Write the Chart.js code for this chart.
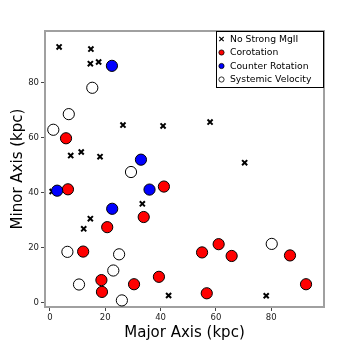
<!DOCTYPE html>
<html><head><meta charset="utf-8">
<script src="https://cdn.jsdelivr.net/npm/chart.js@4"></script>
<style>html,body{margin:0;padding:0;background:#fff}#wrap{width:360px;height:348px;position:relative}</style>
</head><body><div id="wrap"><canvas id="c" width="360" height="348"></canvas></div>
<script>
const seriesNames = ["No Strong MgII", "Corotation", "Counter Rotation", "Systemic Velocity"];
const noStrongX = [3.3, 14.8, 14.6, 17.6, 26.4, 40.9, 57.9, 70.4, 78.2, 7.5, 11.3, 18.1, 0.8, 14.6, 12.2, 33.4, 42.9];
const noStrongY = [93.1, 92.3, 87.0, 87.6, 64.6, 64.3, 65.7, 50.9, 2.4, 53.5, 54.8, 53.1, 40.4, 30.5, 26.8, 35.9, 2.5];
const coroX = [5.8, 6.5, 20.7, 12.0, 18.6, 18.8, 30.4, 41.2, 33.9, 39.4, 55.0, 61.0, 56.7, 65.7, 86.8, 92.6];
const coroY = [59.8, 41.2, 27.4, 18.5, 8.1, 3.8, 6.6, 42.2, 31.1, 9.3, 18.2, 21.2, 3.3, 16.9, 17.1, 6.6];
const counterX = [22.4, 2.6, 22.5, 32.9, 36.0];
const counterY = [86.2, 40.7, 34.1, 52.0, 41.1];
const systemicX = [15.3, 6.8, 1.2, 29.3, 6.3, 25.0, 22.9, 10.5, 26.0, 80.2];
const systemicY = [78.2, 68.6, 62.9, 47.5, 18.4, 17.5, 11.6, 6.5, 0.7, 21.3];
const tickValues = [0, 20, 40, 60, 80];
const xTitle = "Major Axis (kpc)";
const yTitle = "Minor Axis (kpc)";

const pts = (xs, ys) => xs.map((x, i) => ({x: x, y: ys[i]}));
const FONT = "'DejaVu Sans', sans-serif";

const boxPlugin = {
  id: 'boxPlugin',
  afterDatasetsDraw(chart) {
    const ctx = chart.ctx, a = chart.chartArea;
    ctx.save();
    ctx.strokeStyle = '#a0a0a0';
    ctx.lineWidth = 2;
    ctx.beginPath();
    ctx.moveTo(a.left, a.top); ctx.lineTo(a.right, a.top); ctx.lineTo(a.right, a.bottom);
    ctx.stroke();
    // legend
    const w = 108, h = 57;
    const lx = a.right - w, ly = a.top;
    ctx.fillStyle = '#fff';
    ctx.fillRect(lx, ly, w, h);
    ctx.strokeStyle = '#000';
    ctx.lineWidth = 1;
    ctx.strokeRect(lx + 0.5, ly + 0.5, w - 1, h - 1);
    ctx.font = "9.25px " + FONT;
    ctx.textBaseline = 'middle';
    ctx.textAlign = 'left';
    const rows = [8, 21.5, 35, 48.5];
    chart.data.datasets.forEach((ds, i) => {
      const mx = lx + 5.5, my = ly + rows[i];
      ctx.lineWidth = 1;
      ctx.strokeStyle = '#000';
      if (ds.pointStyle === 'crossRot') {
        ctx.lineWidth = 1.2;
        ctx.beginPath();
        ctx.moveTo(mx - 2.2, my - 2.2); ctx.lineTo(mx + 2.2, my + 2.2);
        ctx.moveTo(mx - 2.2, my + 2.2); ctx.lineTo(mx + 2.2, my - 2.2);
        ctx.stroke();
      } else {
        ctx.beginPath();
        ctx.arc(mx, my, 2.6, 0, Math.PI * 2);
        ctx.fillStyle = ds.backgroundColor;
        ctx.fill();
        ctx.lineWidth = 0.8;
        ctx.stroke();
      }
      ctx.fillStyle = '#000';
      ctx.fillText(ds.label, lx + 14, my + 0.5);
    });
    ctx.restore();
  }
};

new Chart(document.getElementById('c'), {
  type: 'scatter',
  data: {
    datasets: [
      {label: seriesNames[0], data: pts(noStrongX, noStrongY), pointStyle: 'crossRot', pointRadius: 3.6, borderColor: '#000', backgroundColor: '#000', borderWidth: 2, order: 4},
      {label: seriesNames[1], data: pts(coroX, coroY), pointStyle: 'circle', pointRadius: 5.6, borderColor: '#000', backgroundColor: '#ff0000', borderWidth: 1, order: 3},
      {label: seriesNames[2], data: pts(counterX, counterY), pointStyle: 'circle', pointRadius: 5.6, borderColor: '#000', backgroundColor: '#0000ff', borderWidth: 1, order: 2},
      {label: seriesNames[3], data: pts(systemicX, systemicY), pointStyle: 'circle', pointRadius: 5.6, borderColor: '#000', backgroundColor: '#ffffff', borderWidth: 1, order: 1}
    ]
  },
  options: {
    responsive: false,
    animation: false,
    devicePixelRatio: 1,
    layout: {padding: {left: 9, right: 36, top: 31, bottom: 6}},
    plugins: {legend: {display: false}, tooltip: {enabled: false}},
    scales: {
      x: {
        type: 'linear', min: -1.8, max: 99.1,
        afterBuildTicks: s => { s.ticks = tickValues.map(v => ({value: v})); },
        afterFit: s => { s.height = 35; },
        grid: {drawOnChartArea: false, drawTicks: true, tickLength: 4, color: '#444', lineWidth: 1},
        border: {display: true, color: '#a0a0a0', width: 2},
        ticks: {font: {family: FONT, size: 8.5}, color: '#222', padding: 2, maxRotation: 0},
        title: {display: true, text: xTitle, font: {family: FONT, size: 15}, color: '#000', padding: {top: 2, bottom: 0}}
      },
      y: {
        type: 'linear', min: -1.7, max: 98.9,
        afterBuildTicks: s => { s.ticks = tickValues.map(v => ({value: v})); },
        afterFit: s => { s.width = 36; },
        grid: {drawOnChartArea: false, drawTicks: true, tickLength: 4, color: '#444', lineWidth: 1},
        border: {display: true, color: '#a0a0a0', width: 2},
        ticks: {font: {family: FONT, size: 8.5}, color: '#222', padding: 2},
        title: {display: true, text: yTitle, font: {family: FONT, size: 15}, color: '#000', padding: {top: 0, bottom: 0}}
      }
    }
  },
  plugins: [boxPlugin]
});
</script></body></html>
